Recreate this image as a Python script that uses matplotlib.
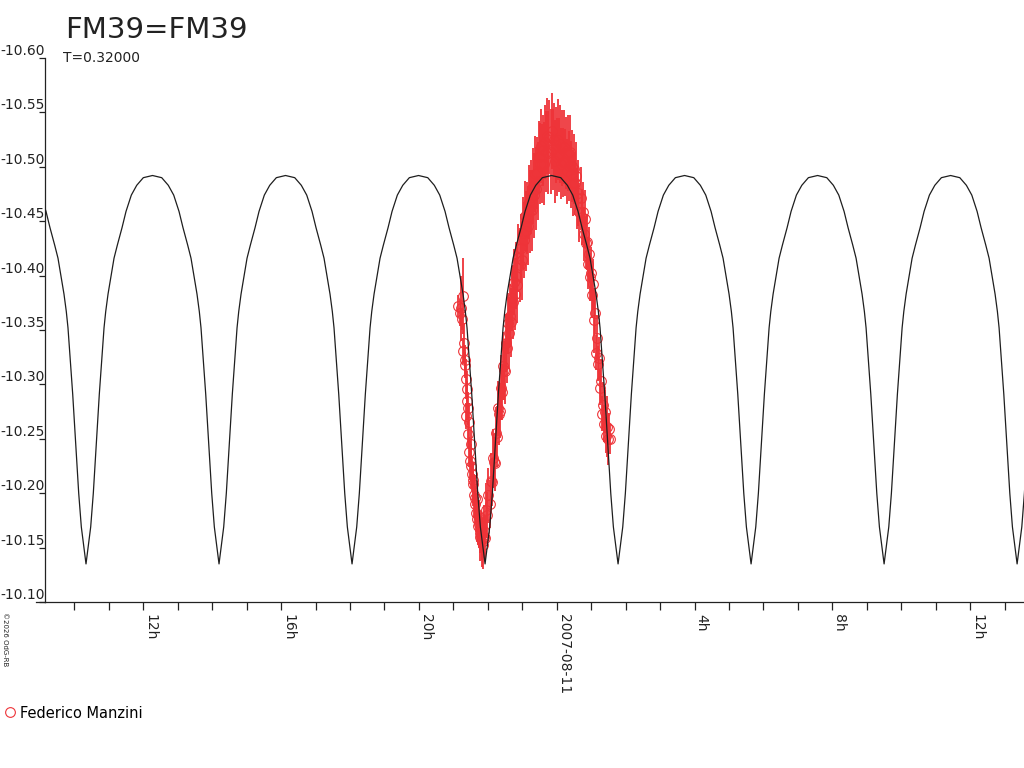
import numpy as np
import matplotlib
matplotlib.use("Agg")
import matplotlib.pyplot as plt
from matplotlib.lines import Line2D

# Light curve of FM39, hours relative to 2007-08-11 00:00 UT
red = '#ee3338'
line_col = '#1e1e1e'

# model: one rising half-arch (hours after minimum, mag)
profile_dt = [0.0, 0.136, 0.212, 0.270, 0.328, 0.386, 0.456, 0.523, 0.572, 0.639,
              0.717, 0.813, 0.909, 1.045, 1.161, 1.315, 1.472, 1.663, 1.93]
profile_mag = [-10.135, -10.169, -10.200, -10.230, -10.261, -10.291, -10.322, -10.352,
               -10.367, -10.383, -10.398, -10.416, -10.428, -10.444, -10.459, -10.474,
               -10.483, -10.490, -10.492]
# times of the model minima
minima_hours = [-13.66, -9.80, -5.94, -2.08, 1.78, 5.64, 9.50, 13.36]

# observations (Federico Manzini)
obs_t = [-2.86, -2.82, -2.79, -2.76, -2.73, -2.71, -2.69, -2.67, -2.66, -2.64,
         -2.63, -2.61, -2.60, -2.58, -2.57, -2.55, -2.54, -2.52, -2.50, -2.48,
         -2.46, -2.44, -2.42, -2.40, -2.38, -2.36, -2.34, -2.32, -2.30, -2.28,
         -2.26, -2.24, -2.22, -2.20, -2.18, -2.16, -2.14, -2.12, -2.10,
         -2.07, -2.04, -2.01, -1.98, -1.95, -1.92, -1.89, -1.86, -1.83, -1.80,
         -1.77, -1.74, -1.71, -1.68, -1.65, -1.62, -1.59, -1.56, -1.53, -1.50,
         -1.47, -1.44, -1.41, -1.38, -1.35, -1.32, -1.29, -1.26, -1.23, -1.20,
         -1.17, -1.14, -1.11, -1.08, -1.05, -1.02, -0.99, -0.96, -0.93, -0.90,
         -0.87, -0.84, -0.81, -0.78, -0.75, -0.72, -0.69, -0.66, -0.63, -0.60,
         -0.57, -0.54, -0.51, -0.48, -0.45, -0.42, -0.39, -0.36, -0.33, -0.30,
         -0.27, -0.24, -0.21, -0.18, -0.15, -0.12, -0.09, -0.06, -0.03, 0.00,
         0.03, 0.06, 0.09, 0.12, 0.15, 0.18, 0.21, 0.24, 0.27, 0.30,
         0.33, 0.36, 0.39, 0.42, 0.45, 0.48, 0.51, 0.54, 0.57, 0.60,
         0.63, 0.66, 0.69, 0.72, 0.75, 0.78, 0.81, 0.84, 0.87, 0.90,
         0.93, 0.96, 0.99, 1.02, 1.05, 1.08, 1.11, 1.14, 1.17, 1.20,
         1.23, 1.26, 1.29, 1.32, 1.35, 1.38, 1.41, 1.44, 1.47, 1.50,
         1.53, 1.55]
obs_mag = [-10.372, -10.366, -10.370, -10.360, -10.381, -10.331, -10.338, -10.322, -10.318, -10.305,
           -10.271, -10.296, -10.285, -10.278, -10.254, -10.265, -10.238, -10.230, -10.245, -10.225,
           -10.218, -10.208, -10.212, -10.198, -10.190, -10.196, -10.182, -10.195, -10.176, -10.170,
           -10.172, -10.163, -10.160, -10.165, -10.155, -10.158, -10.152, -10.160, -10.165,
           -10.159, -10.185, -10.180, -10.198, -10.190, -10.211, -10.210, -10.232, -10.229, -10.228,
           -10.255, -10.252, -10.278, -10.273, -10.276, -10.297, -10.293, -10.317, -10.313, -10.312,
           -10.338, -10.333, -10.356, -10.347, -10.363, -10.357, -10.379, -10.376, -10.394, -10.383,
           -10.400, -10.391, -10.416, -10.410, -10.425, -10.414, -10.439, -10.433, -10.455, -10.441,
           -10.453, -10.446, -10.468, -10.459, -10.472, -10.460, -10.482, -10.474, -10.493, -10.480,
           -10.494, -10.487, -10.509, -10.503, -10.519, -10.503, -10.515, -10.503, -10.523, -10.514,
           -10.528, -10.513, -10.527, -10.514, -10.533, -10.516, -10.525, -10.505, -10.520, -10.509,
           -10.525, -10.511, -10.521, -10.503, -10.517, -10.504, -10.518, -10.504, -10.513, -10.496,
           -10.513, -10.501, -10.514, -10.493, -10.501, -10.485, -10.498, -10.485, -10.492, -10.471,
           -10.476, -10.458, -10.471, -10.454, -10.458, -10.438, -10.452, -10.430, -10.431, -10.411,
           -10.420, -10.399, -10.402, -10.382, -10.392, -10.359, -10.366, -10.329, -10.343, -10.319,
           -10.324, -10.297, -10.303, -10.273, -10.281, -10.264, -10.275, -10.253, -10.261, -10.250,
           -10.259, -10.250]
obs_err = [0.010, 0.012, 0.030, 0.010, 0.035, 0.012, 0.018, 0.014, 0.012, 0.018,
           0.012, 0.016, 0.018, 0.015, 0.012, 0.018, 0.014, 0.018, 0.016, 0.020,
           0.016, 0.020, 0.017, 0.020, 0.017, 0.021, 0.018, 0.016, 0.021, 0.018,
           0.022, 0.018, 0.022, 0.019, 0.023, 0.019, 0.022, 0.020, 0.024,
           0.020, 0.024, 0.021, 0.025, 0.022, 0.026, 0.022, 0.027, 0.023, 0.026,
           0.024, 0.028, 0.025, 0.029, 0.025, 0.030, 0.026, 0.031, 0.027, 0.030,
           0.027, 0.032, 0.028, 0.033, 0.029, 0.032, 0.030, 0.034, 0.030, 0.033,
           0.031, 0.035, 0.031, 0.034, 0.032, 0.036, 0.033, 0.035, 0.032, 0.037,
           0.033, 0.036, 0.034, 0.038, 0.034, 0.037, 0.035, 0.039, 0.035, 0.038,
           0.033, 0.036, 0.033, 0.037, 0.034, 0.036, 0.033, 0.038, 0.034, 0.037,
           0.035, 0.038, 0.034, 0.039, 0.035, 0.037, 0.034, 0.038, 0.035, 0.036,
           0.037, 0.034, 0.036, 0.033, 0.035, 0.032, 0.034, 0.031, 0.033, 0.030,
           0.035, 0.032, 0.034, 0.031, 0.033, 0.030, 0.032, 0.029, 0.031, 0.028,
           0.030, 0.027, 0.029, 0.026, 0.028, 0.025, 0.027, 0.024, 0.026, 0.023,
           0.025, 0.022, 0.024, 0.021, 0.023, 0.030, 0.020, 0.016, 0.021, 0.016,
           0.020, 0.016, 0.020, 0.016, 0.021, 0.017, 0.020, 0.016, 0.028, 0.024,
           0.015, 0.014]

hour_ticks = list(range(-14, 14))
major_ticks = [-12, -8, -4, 0, 4, 8, 12]
major_labels = ['12h', '16h', '20h', '2007-08-11', '4h', '8h', '12h']

x_min, x_max = -14.85, 13.56
y_bottom, y_top = -10.10, -10.60
y_ticks = [-10.60, -10.55, -10.50, -10.45, -10.40, -10.35, -10.30, -10.25, -10.20, -10.15, -10.10]

# build model curve from the read half-arch
model_t, model_m = [], []
for m in minima_hours:
    model_t += [m - d for d in profile_dt[::-1]] + [m + d for d in profile_dt[1:]]
    model_m += profile_mag[::-1] + profile_mag[1:]

fig = plt.figure(figsize=(10.24, 7.68), dpi=100)
ax = fig.add_axes([45 / 1024, 1 - 602 / 768, 979 / 1024, (602 - 58) / 768])

ax.errorbar(obs_t, obs_mag, yerr=obs_err, fmt='o', ms=7, mfc='none', mec=red, mew=0.8,
            ecolor=red, elinewidth=1.3, capsize=0, barsabove=True, zorder=2)
ax.plot(model_t, model_m, color=line_col, lw=0.9, zorder=3)

ax.set_xlim(x_min, x_max)
ax.set_ylim(y_bottom, y_top)

ax.spines['top'].set_visible(False)
ax.spines['right'].set_visible(False)
for s in ['left', 'bottom']:
    ax.spines[s].set_linewidth(0.9)
    ax.spines[s].set_color('#222222')

ax.set_xticks(hour_ticks)
ax.set_xticklabels(['' if h not in major_ticks else major_labels[major_ticks.index(h)]
                    for h in hour_ticks], rotation=-90, ha='left', va='top',
                   fontsize=10, color='#222222')
ax.tick_params(axis='x', direction='out', length=6, width=0.9, color='#222222', pad=3)

ax.set_yticks(y_ticks)
ax.set_yticklabels(['%.2f' % v for v in y_ticks], fontsize=10, color='#222222')
ax.tick_params(axis='y', direction='out', length=4.3, width=0.9, color='#222222', pad=-4.3)
for lab in ax.get_yticklabels():
    lab.set_verticalalignment('bottom')

# bottom axis line continues a little to the left of the y axis
fig.add_artist(Line2D([36 / 1024, 45 / 1024], [1 - 602 / 768, 1 - 602 / 768],
                      color='#222222', lw=0.9))

fig.text(65 / 1024, 1 - 30 / 768, 'FM39=FM39', fontsize=21, va='center', ha='left',
         color='#222222')
fig.text(63 / 1024, 1 - 58 / 768, 'T=0.32000', fontsize=10, va='center', ha='left',
         color='#222222')
fig.text(5 / 1024, 1 - 612 / 768, '©2026 OdG-RB', fontsize=5, rotation=-90,
         va='top', ha='center', color='#222222')

handle = Line2D([], [], marker='o', ls='none', ms=7, mfc='none', mec=red, mew=0.8)
fig.legend([handle], ['Federico Manzini'], loc='center left',
           bbox_to_anchor=(0, 1 - 713 / 768), frameon=False, fontsize=10.5,
           handlelength=0.8, handletextpad=0.3, borderaxespad=0.2, borderpad=0.1)

fig.savefig('out.png', dpi=100)
